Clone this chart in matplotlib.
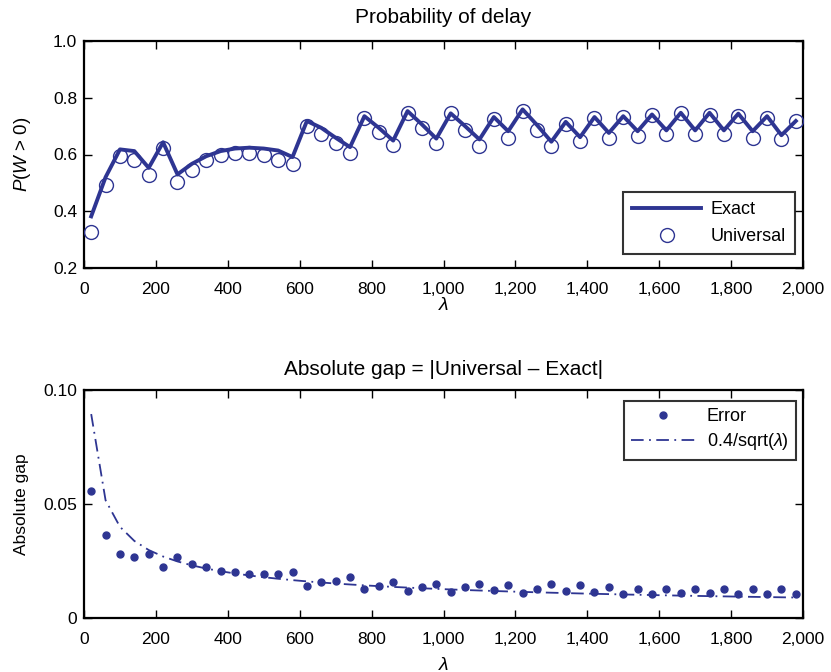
import numpy as np
import matplotlib
matplotlib.use("Agg")
import matplotlib.pyplot as plt
from matplotlib.ticker import FuncFormatter, MultipleLocator

plt.rcParams['font.family'] = ['Liberation Sans', 'DejaVu Sans']
plt.rcParams['mathtext.fontset'] = 'custom'
plt.rcParams['mathtext.rm'] = 'Liberation Sans'
plt.rcParams['mathtext.it'] = 'Liberation Sans:italic'
plt.rcParams['mathtext.sf'] = 'Liberation Sans'

lam = [20, 60, 100, 140, 180, 220, 260, 300, 340, 380, 420, 460, 500, 540, 580,
       620, 660, 700, 740, 780, 820, 860, 900, 940, 980, 1020, 1060, 1100, 1140,
       1180, 1220, 1260, 1300, 1340, 1380, 1420, 1460, 1500, 1540, 1580, 1620,
       1660, 1700, 1740, 1780, 1820, 1860, 1900, 1940, 1980]

exact = [0.382, 0.520, 0.618, 0.612, 0.553, 0.643, 0.530, 0.567, 0.594, 0.612,
         0.621, 0.624, 0.621, 0.614, 0.591, 0.718, 0.694, 0.659, 0.626, 0.735,
         0.694, 0.649, 0.753, 0.706, 0.656, 0.745, 0.700, 0.653, 0.732, 0.682,
         0.759, 0.704, 0.645, 0.715, 0.661, 0.732, 0.676, 0.735, 0.682, 0.741,
         0.685, 0.747, 0.685, 0.747, 0.685, 0.744, 0.682, 0.735, 0.668, 0.718]

universal = [0.326, 0.491, 0.594, 0.580, 0.526, 0.624, 0.502, 0.547, 0.582, 0.600,
             0.605, 0.605, 0.600, 0.582, 0.565, 0.702, 0.671, 0.641, 0.606, 0.727,
             0.679, 0.635, 0.747, 0.694, 0.641, 0.747, 0.685, 0.629, 0.724, 0.659,
             0.753, 0.688, 0.629, 0.706, 0.647, 0.727, 0.659, 0.732, 0.665, 0.739,
             0.671, 0.745, 0.671, 0.739, 0.671, 0.735, 0.659, 0.727, 0.653, 0.718]

error = [0.0556, 0.0366, 0.0280, 0.0266, 0.0280, 0.0222, 0.0266, 0.0236, 0.0222,
         0.0207, 0.0200, 0.0193, 0.0193, 0.0193, 0.0200, 0.0142, 0.0156, 0.0164,
         0.0178, 0.0127, 0.0142, 0.0156, 0.0120, 0.0134, 0.0149, 0.0113, 0.0136,
         0.0150, 0.0121, 0.0143, 0.0109, 0.0128, 0.0150, 0.0118, 0.0143, 0.0114,
         0.0136, 0.0107, 0.0128, 0.0107, 0.0128, 0.0109, 0.0128, 0.0109, 0.0128,
         0.0107, 0.0128, 0.0107, 0.0128, 0.0107]

bound_coef = 0.4
bound = bound_coef / np.sqrt(np.array(lam, dtype=float))

col = '#2E3592'
W, H = 831, 672
fig = plt.figure(figsize=(W / 100, H / 100), dpi=100)

def px_axes(l, r, t, b):
    return fig.add_axes([l / W, 1 - b / H, (r - l) / W, (b - t) / H])

ax1 = px_axes(84, 803, 41, 268)
ax2 = px_axes(84, 803, 390, 618)

comma = FuncFormatter(lambda v, p: f"{int(v):,}")

def style(ax):
    for s in ax.spines.values():
        s.set_linewidth(1.6)
    ax.tick_params(direction='in', top=True, right=True, length=6, width=1.0,
                   labelsize=12.5)
    ax.tick_params(axis='x', pad=10)
    ax.tick_params(axis='y', pad=5)
    ax.set_xlim(0, 2000)
    ax.xaxis.set_major_locator(MultipleLocator(200))
    ax.xaxis.set_major_formatter(comma)

# Top plot
ax1.plot(lam, exact, color=col, lw=2.8, label='Exact', zorder=2)
ax1.plot(lam, universal, ls='none', marker='o', ms=10, mfc='none', mec=col,
         mew=1.0, label='Universal', zorder=3)
style(ax1)
ax1.set_ylim(0.2, 1.0)
ax1.set_yticks([0.2, 0.4, 0.6, 0.8, 1.0])
ax1.yaxis.set_major_formatter(FuncFormatter(lambda v, p: f"{v:.1f}"))
ax1.set_title('Probability of delay', fontsize=15, pad=13)
ax1.set_xlabel(r'$\lambda$', fontsize=14, labelpad=0)
ax1.set_ylabel(r'$P(W$ > 0)', fontsize=13.5, labelpad=14)
leg1 = ax1.legend(loc='lower right', bbox_to_anchor=(0.989, 0.062),
                  borderaxespad=0, fontsize=13,
                  frameon=True, fancybox=False, edgecolor='black',
                  handlelength=3.8, borderpad=0.5, labelspacing=0.55,
                  handletextpad=0.55)
leg1.get_frame().set_linewidth(1.5)

# Bottom plot
ax2.plot(lam, error, ls='none', marker='o', ms=5, color=col, label='Error',
         zorder=3)
ax2.plot(lam, bound, color=col, lw=1.3, ls=(0, (7, 3, 1, 3)),
         label=r'0.4/sqrt($\lambda$)', zorder=2)
style(ax2)
ax2.set_ylim(0, 0.10)
ax2.set_yticks([0, 0.05, 0.10])
ax2.set_yticklabels(['0', '0.05', '0.10'])
ax2.set_title('Absolute gap = |Universal \u2013 Exact|', fontsize=15, pad=11)
ax2.set_xlabel(r'$\lambda$', fontsize=14, labelpad=7)
ax2.set_ylabel('Absolute gap', fontsize=12.5, labelpad=10)
leg2 = ax2.legend(loc='upper right', bbox_to_anchor=(0.990, 0.952),
                  borderaxespad=0, fontsize=13,
                  frameon=True, fancybox=False, edgecolor='black',
                  handlelength=3.6, borderpad=0.4, labelspacing=0.35,
                  handletextpad=0.6)
leg2.get_frame().set_linewidth(1.5)

fig.savefig('out.png', dpi=100)
